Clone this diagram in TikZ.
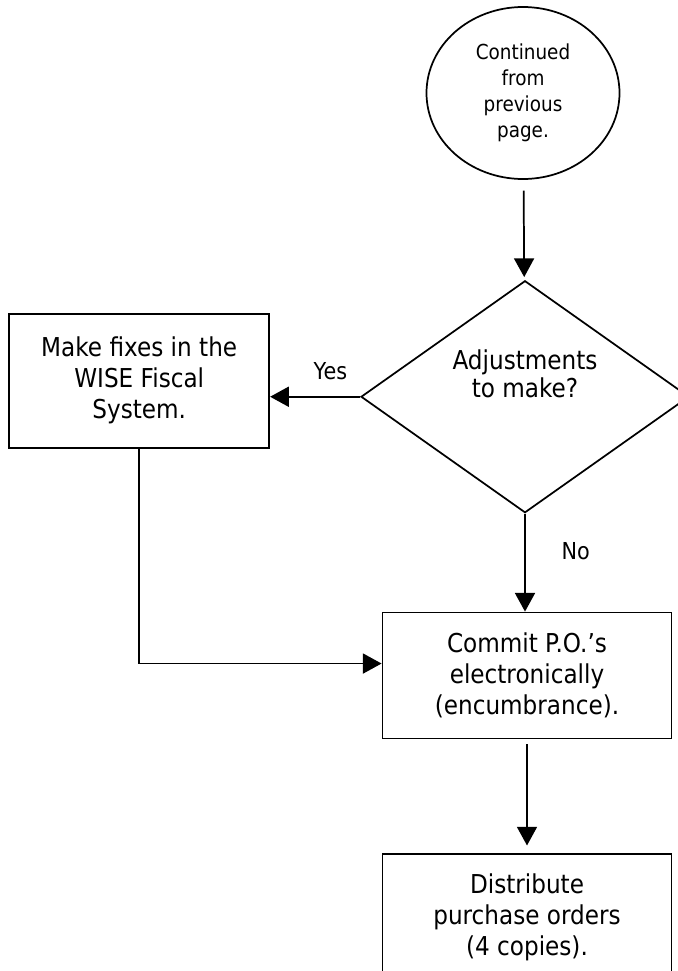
\documentclass[tikz,border=0pt]{standalone}
\usepackage{fontspec}
\setmainfont{DejaVu Sans}[FakeStretch=0.89]
\usetikzlibrary{positioning,shapes.geometric,arrows.meta}

\tikzset{
  flow/.style={line width=1.3pt, -{Triangle[length=14pt,width=15pt]}},
  procbox/.style={draw, line width=1.4pt, rectangle, align=center, inner sep=0pt,
    minimum width=216.75pt, minimum height=94.5pt, font=\fontsize{19.5}{23.25}\selectfont},
  contcircle/.style={draw, line width=1.3pt, ellipse, align=center, inner sep=0pt,
    minimum width=144.75pt, minimum height=129pt, font=\fontsize{15.5}{19.5}\selectfont},
  question/.style={draw, line width=1.3pt, diamond, inner sep=0pt,
    minimum width=246pt, minimum height=174pt},
  qtext/.style={align=center, font=\fontsize{19.5}{21}\selectfont},
  lbl/.style={font=\fontsize{17.5}{21}\selectfont}
}

\begin{document}
\begin{tikzpicture}[x=0.75pt, y=-0.75pt]
      \useasboundingbox (0,0) rectangle (678,971);
      \node [contcircle] (c1) at (523,93) {Continued\\from\\previous\\page.};
      \node [question, below=75pt of c1, xshift=1.5pt] (q1) {};
      \node [qtext] (q1t) at ([yshift=17pt]q1.center) {Adjustments\\to make?};
      \node [procbox, left=67.5pt of q1, yshift=12pt, minimum width=195pt, minimum height=100.5pt] (p1)
        {Make fixes in the\\WISE Fiscal\\System.};
      \node [procbox, below=73.5pt of q1, xshift=1.5pt] (p2)
        {Commit P.O.’s\\electronically\\(encumbrance).};
      \node [procbox, below=85.5pt of p2] (p3)
        {Distribute\\purchase orders\\(4 copies).};

      \draw [flow, shorten <=8pt, shorten >=2.5pt] (c1) -- (q1);
      \draw [flow] (q1.west) -- (q1.west -| p1.east)
        node [lbl, pos=0.33, yshift=19.5pt] {Yes};
      \draw [flow] (q1.south) -- (q1.south |- p2.north)
        node [lbl, pos=0.38, xshift=38pt] {No};
      \draw [flow] (p1.south) |- ([yshift=9pt]p2.west);
      \draw [flow, shorten <=3.75pt, shorten >=6pt] (p2) -- (p3);
\end{tikzpicture}
\end{document}
